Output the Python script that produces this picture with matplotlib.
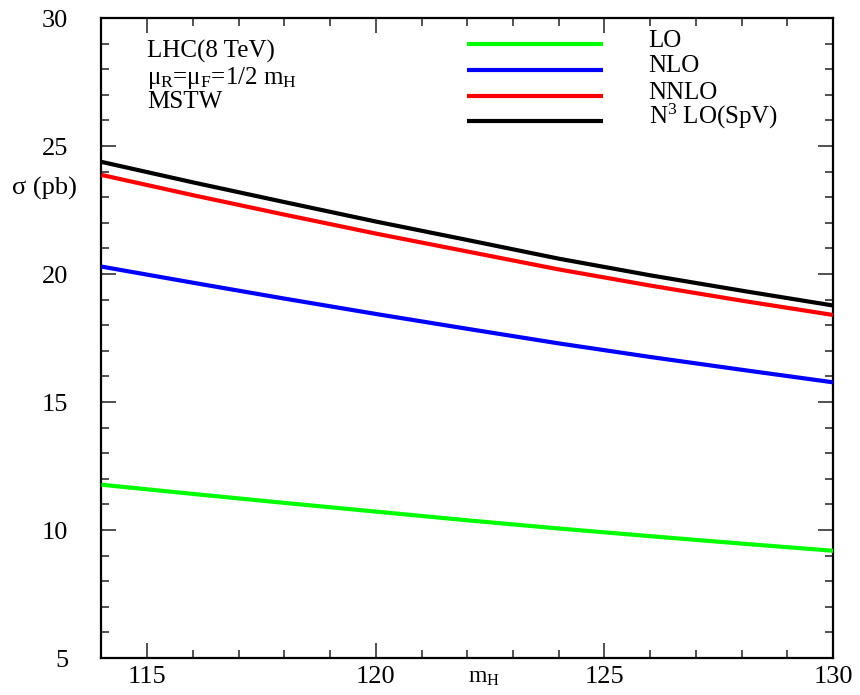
import matplotlib
matplotlib.use("Agg")
import matplotlib.pyplot as plt
from matplotlib.ticker import MultipleLocator

plt.rcParams["font.family"] = ["Liberation Serif", "DejaVu Serif"]
plt.rcParams["mathtext.fontset"] = "custom"
plt.rcParams["mathtext.rm"] = "Liberation Serif"
plt.rcParams["mathtext.it"] = "Liberation Serif"

# Higgs mass grid (GeV) and cross sections (pb)
m_h = [114, 116, 118, 120, 122, 124, 126, 128, 130]
sigma_lo = [11.77, 11.41, 11.06, 10.72, 10.38, 10.06, 9.76, 9.47, 9.19]
sigma_nlo = [20.29, 19.66, 19.04, 18.44, 17.86, 17.29, 16.76, 16.26, 15.77]
sigma_nnlo = [23.87, 23.08, 22.32, 21.58, 20.88, 20.18, 19.55, 18.96, 18.40]
sigma_n3lo = [24.38, 23.58, 22.81, 22.05, 21.33, 20.60, 19.95, 19.35, 18.77]

series_names = ["LO", "NLO", "NNLO", r"N$^{3}$ LO(SpV)"]
series_colors = ["#00ff00", "#0000ff", "#ff0000", "#000000"]
series_values = [sigma_lo, sigma_nlo, sigma_nnlo, sigma_n3lo]

x_ticks = [115, 120, 125, 130]
y_ticks = [5, 10, 15, 20, 25, 30]

fig = plt.figure(figsize=(8.6, 6.95), dpi=100)
ax = fig.add_axes([0.118, 0.0532, 0.8506, 0.9209])

for vals, col in zip(series_values, series_colors):
    ax.plot(m_h, vals, color=col, lw=3.0, solid_capstyle="butt", zorder=3)

ax.set_xlim(114, 130)
ax.set_ylim(5, 30)
ax.set_xticks(x_ticks)
ax.set_yticks(y_ticks)
ax.xaxis.set_minor_locator(MultipleLocator(1))
ax.yaxis.set_minor_locator(MultipleLocator(1))

for s in ax.spines.values():
    s.set_linewidth(1.6)

ax.tick_params(which="both", direction="in", top=True, right=True,
               color="#333333", width=1.2)
ax.tick_params(which="major", length=11)
ax.tick_params(which="minor", length=5.5)
ax.tick_params(axis="x", which="major", labelsize=19, pad=6)
ax.tick_params(axis="y", which="major", labelsize=19, pad=24)

# axis titles
ax.text(122.37, -0.014, r"m$_\mathrm{H}$", transform=ax.get_xaxis_transform(),
        ha="center", va="top", fontsize=17)
fig.text(0.014, 0.729, "σ (pb)", ha="left", va="center", fontsize=19)

# annotation block
ax.text(0.062, 0.947, "LHC(8 TeV)", transform=ax.transAxes,
        ha="left", va="center", fontsize=18)
ax.text(0.062, 0.897, r"μ$_\mathrm{R}$=μ$_\mathrm{F}$=1/2 m$_\mathrm{H}$",
        transform=ax.transAxes, ha="left", va="baseline", fontsize=18)
ax.text(0.062, 0.869, "MSTW", transform=ax.transAxes,
        ha="left", va="center", fontsize=18)

# legend
legend_y = [0.959, 0.919, 0.878, 0.839]
for name, col, ly in zip(series_names, series_colors, legend_y):
    ax.plot([0.5, 0.686], [ly, ly], color=col, lw=3.0, transform=ax.transAxes,
            solid_capstyle="butt", clip_on=False)
    ax.text(0.748, ly - 0.004, name, transform=ax.transAxes,
            ha="left", va="baseline", fontsize=18)

fig.savefig("out.png", dpi=100)
